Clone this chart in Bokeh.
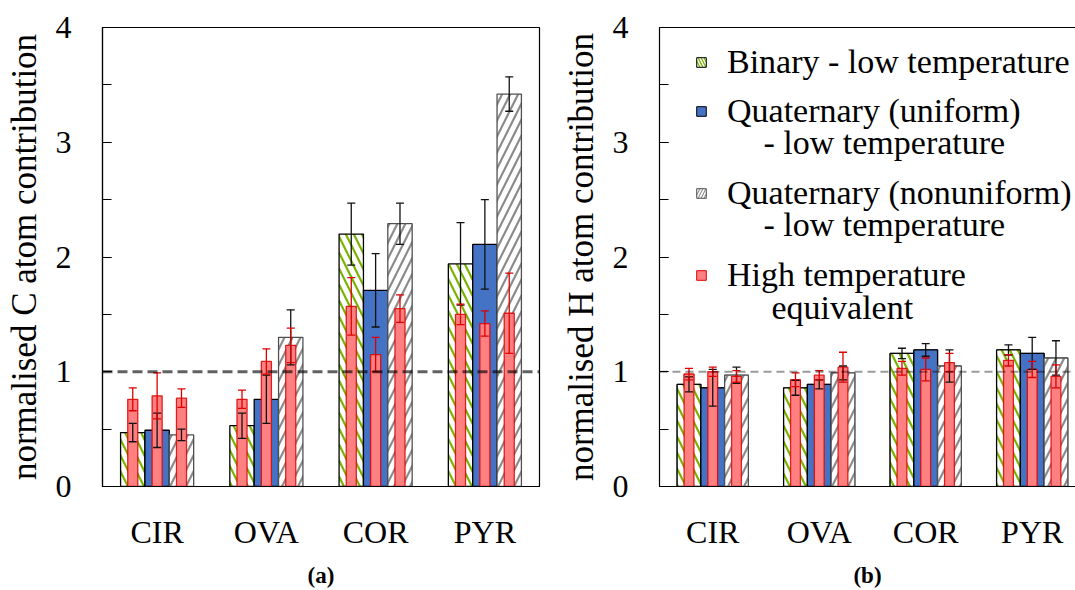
import numpy as np
from bokeh.plotting import figure
from bokeh.models import (ColumnDataSource, Whisker, TeeHead, Span, Legend, LegendItem,
                          Label, FixedTicker, SingleIntervalTicker, LinearAxis, Range1d)
from bokeh.layouts import row
from bokeh.embed import file_html
from bokeh.resources import INLINE

FONT = "'Liberation Serif', 'Times New Roman', serif"

# ---------------- data ----------------
categories = ["CIR", "OVA", "COR", "PYR"]

# (a) normalised C atom contribution
C_binary = [0.47, 0.53, 2.20, 1.94]
C_binary_err = [0.08, 0.11, 0.27, 0.36]
C_uniform = [0.49, 0.76, 1.71, 2.11]
C_uniform_err = [0.15, 0.21, 0.32, 0.39]
C_nonuniform = [0.45, 1.30, 2.29, 3.42]
C_nonuniform_err = [0.05, 0.24, 0.18, 0.15]
C_high_binary = [0.76, 0.76, 1.57, 1.50]
C_high_binary_err = [0.10, 0.08, 0.25, 0.09]
C_high_uniform = [0.79, 1.09, 1.15, 1.42]
C_high_uniform_err = [0.20, 0.11, 0.15, 0.11]
C_high_nonuniform = [0.77, 1.23, 1.55, 1.51]
C_high_nonuniform_err = [0.08, 0.15, 0.12, 0.35]

# (b) normalised H atom contribution
H_binary = [0.89, 0.86, 1.16, 1.19]
H_binary_err = [0.065, 0.065, 0.045, 0.045]
H_uniform = [0.86, 0.89, 1.19, 1.16]
H_uniform_err = [0.16, 0.04, 0.055, 0.14]
H_nonuniform = [0.97, 0.99, 1.05, 1.12]
H_nonuniform_err = [0.07, 0.06, 0.14, 0.15]
H_high_binary = [0.98, 0.93, 1.03, 1.10]
H_high_binary_err = [0.05, 0.06, 0.06, 0.05]
H_high_uniform = [1.00, 0.97, 1.02, 1.02]
H_high_uniform_err = [0.04, 0.04, 0.10, 0.07]
H_high_nonuniform = [0.96, 1.04, 1.08, 0.96]
H_high_nonuniform_err = [0.05, 0.13, 0.08, 0.10]

reference_level = 1.0
y_ticks_major = 1
legend_labels = ["Binary - low temperature", "Quaternary (uniform)",
                 "Quaternary (nonuniform)", "High temperature"]
legend_continuations = ["- low temperature", "- low temperature", "equivalent"]

# ---------------- styles ----------------
BAR_W = 0.223
RED_W = 0.092
OFFSETS = [-BAR_W, 0.0, BAR_W]
GREEN = "#78b400"
BLUE = "#4472c4"
GRAY_H = "#8c8c8c"
RED_FILL = "#ff8080"
RED_LINE = "#dd0000"

LOW_STYLES = [
    dict(fill_color="white", line_color="black", hatch_pattern="left_diagonal_line",
         hatch_color=GREEN, hatch_weight=2.2, hatch_scale=16),
    dict(fill_color=BLUE, line_color="black"),
    dict(fill_color="white", line_color="#505050", hatch_pattern="right_diagonal_line",
         hatch_color=GRAY_H, hatch_weight=2.2, hatch_scale=16),
]
HIGH_STYLE = dict(fill_color=RED_FILL, line_color=RED_LINE, line_alpha=0.85)

# legend swatch styles (finer hatch for the small squares)
PROXY_STYLES = [
    dict(fill_color="white", line_color="black", hatch_pattern="left_diagonal_line",
         hatch_color=GREEN, hatch_weight=1.3, hatch_scale=6),
    dict(fill_color=BLUE, line_color="black"),
    dict(fill_color="white", line_color="#505050", hatch_pattern="right_diagonal_line",
         hatch_color=GRAY_H, hatch_weight=1.1, hatch_scale=6),
    dict(fill_color=RED_FILL, line_color=RED_LINE),
]


def make_panel(width, border_left, border_right, x_end, lows, low_errs, highs, high_errs,
               ylabel, panel_label, outline, span_style, with_proxies=False):
    p = figure(width=width, height=590, output_backend="svg", toolbar_location=None,
               x_range=Range1d(0, x_end), y_range=Range1d(0, 4),
               min_border_left=border_left, min_border_right=border_right,
               min_border_top=27, min_border_bottom=104,
               background_fill_color="white", border_fill_color="white")
    p.xgrid.visible = False
    p.ygrid.visible = False

    centers = np.arange(len(categories)) + 0.5

    # y axis
    ya = p.left[0]
    ya.ticker = SingleIntervalTicker(interval=y_ticks_major, num_minor_ticks=2)
    ya.major_tick_in = 9
    ya.major_tick_out = 0
    ya.minor_tick_in = 9
    ya.minor_tick_out = 0
    ya.major_tick_line_width = 1.2
    ya.minor_tick_line_width = 1.2
    ya.axis_line_width = 1.2
    ya.major_label_standoff = 31
    ya.major_label_text_font = FONT
    ya.major_label_text_font_size = "32px"
    ya.major_label_text_color = "black"
    ya.axis_label = ylabel
    ya.axis_label_text_font = FONT
    ya.axis_label_text_font_size = "35px"
    ya.axis_label_text_font_style = "normal"
    ya.axis_label_text_color = "black"
    ya.axis_label_standoff = 9

    # x axis
    xa = p.below[0]
    xa.ticker = FixedTicker(ticks=list(centers))
    xa.major_label_overrides = {float(c): lab for c, lab in zip(centers, categories)}
    xa.major_tick_line_color = None
    xa.minor_tick_line_color = None
    xa.axis_line_width = 1.2
    xa.major_label_standoff = 21
    xa.major_label_text_font = FONT
    xa.major_label_text_font_size = "32px"
    xa.major_label_text_color = "black"
    xa.axis_label = panel_label
    xa.axis_label_text_font = FONT
    xa.axis_label_text_font_size = "23px"
    xa.axis_label_text_font_style = "bold"
    xa.axis_label_text_color = "black"
    xa.axis_label_standoff = 10

    if outline:
        p.outline_line_color = "black"
        p.outline_line_width = 1.2
    else:
        p.outline_line_color = None
        top = LinearAxis(ticker=FixedTicker(ticks=[]), axis_line_color="black",
                         axis_line_width=1.2, major_tick_line_color=None,
                         minor_tick_line_color=None, major_label_text_font_size="0px")
        p.add_layout(top, "above")

    proxies = []
    if with_proxies:
        # legend swatches: identical geometry to the real series, drawn underneath them
        series = [(OFFSETS[0], lows[0], BAR_W), (OFFSETS[1], lows[1], BAR_W),
                  (OFFSETS[2], lows[2], BAR_W), (OFFSETS[0], highs[0], RED_W)]
        for (off, vals, w), st in zip(series, PROXY_STYLES):
            r = p.vbar(x=centers + off, top=vals, bottom=0, width=w, line_width=1.0,
                       level="underlay", **st)
            proxies.append(r)

    for off, vals, style in zip(OFFSETS, lows, LOW_STYLES):
        p.vbar(x=centers + off, top=vals, bottom=0, width=BAR_W, line_width=1.3, **style)
    for off, vals in zip(OFFSETS, highs):
        p.vbar(x=centers + off, top=vals, bottom=0, width=RED_W, line_width=1.3, **HIGH_STYLE)

    for off, vals, errs in zip(OFFSETS, lows, low_errs):
        v = np.array(vals); e = np.array(errs)
        src = ColumnDataSource(dict(base=centers + off, lower=v - e, upper=v + e))
        w = Whisker(source=src, base="base", lower="lower", upper="upper",
                    line_color="#111111", line_width=1.3, level="annotation",
                    upper_head=TeeHead(size=8, line_color="#111111", line_width=1.3),
                    lower_head=TeeHead(size=8, line_color="#111111", line_width=1.3))
        p.add_layout(w)
    for off, vals, errs in zip(OFFSETS, highs, high_errs):
        v = np.array(vals); e = np.array(errs)
        src = ColumnDataSource(dict(base=centers + off, lower=v - e, upper=v + e))
        w = Whisker(source=src, base="base", lower="lower", upper="upper",
                    line_color=RED_LINE, line_width=1.3, level="annotation",
                    upper_head=TeeHead(size=8, line_color=RED_LINE, line_width=1.3),
                    lower_head=TeeHead(size=8, line_color=RED_LINE, line_width=1.3))
        p.add_layout(w)

    p.add_layout(Span(location=reference_level, dimension="width", level="annotation",
                      **span_style))
    return p, proxies


left, _ = make_panel(558, 102, 19, 4.0,
                     [C_binary, C_uniform, C_nonuniform], [C_binary_err, C_uniform_err, C_nonuniform_err],
                     [C_high_binary, C_high_uniform, C_high_nonuniform],
                     [C_high_binary_err, C_high_uniform_err, C_high_nonuniform_err],
                     "normalised C atom contribution", "(a)", True,
                     dict(line_color="black", line_alpha=0.62, line_width=3, line_dash="10 5"))

right, proxies = make_panel(517, 99, 0, 418 / 107,
                            [H_binary, H_uniform, H_nonuniform], [H_binary_err, H_uniform_err, H_nonuniform_err],
                            [H_high_binary, H_high_uniform, H_high_nonuniform],
                            [H_high_binary_err, H_high_uniform_err, H_high_nonuniform_err],
                            "normalised H atom contribution", "(b)", False,
                            dict(line_color="black", line_alpha=0.4, line_width=2, line_dash="8 5"),
                            with_proxies=True)

# ---------------- legend (in panel b) ----------------
legend_y = [404, 355, 273, 191]
for lab, proxy, ly in zip(legend_labels, proxies, legend_y):
    leg = Legend(items=[LegendItem(label=lab, renderers=[proxy])], location=(36, ly),
                 padding=0, margin=0, spacing=0, border_line_color=None,
                 background_fill_alpha=0, glyph_width=12, glyph_height=12,
                 label_height=40, label_standoff=20, label_text_font=FONT,
                 label_text_font_size="34px", label_text_color="black")
    right.add_layout(leg)

cont_pos = [(104, 344), (104, 262), (112, 179)]
for txt, (cx, cy) in zip(legend_continuations, cont_pos):
    right.add_layout(Label(x=cx, y=cy, x_units="screen", y_units="screen", text=txt,
                           text_font=FONT, text_font_size="34px", text_color="black",
                           text_baseline="middle"))

layout = row(left, right, spacing=0)
open("out.html", "w").write(file_html(layout, INLINE))
